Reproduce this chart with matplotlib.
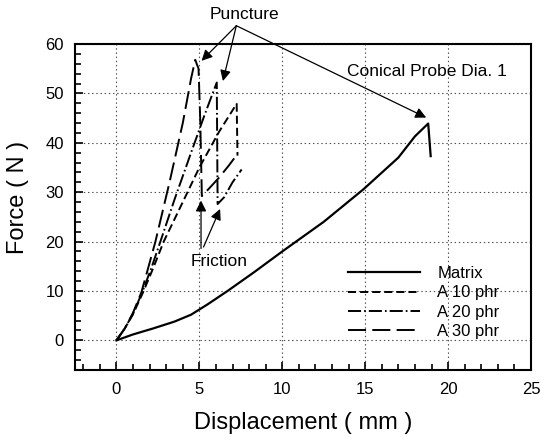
import matplotlib
matplotlib.use("Agg")
import matplotlib.pyplot as plt
from matplotlib.ticker import MultipleLocator

plt.rcParams["font.family"] = ["Liberation Sans", "DejaVu Sans"]
plt.rcParams["lines.scale_dashes"] = False

# ---------------------------------------------------------------------------
# Data: force vs displacement, conical probe puncture test
# ---------------------------------------------------------------------------
matrix_x = [0, 1.0, 2.2, 3.5, 4.5, 5.5, 6.7, 8.3, 10.0, 12.5, 14.9, 17.0, 18.0, 18.8, 18.95]
matrix_y = [0, 1.2, 2.4, 3.8, 5.2, 7.3, 10.0, 13.8, 18.0, 24.0, 30.6, 37.0, 41.3, 43.9, 37.3]

a10_x = [0, 0.5, 1.0, 1.6, 2.2, 2.85, 4.0, 5.0, 6.2, 7.25, 7.3]
a10_y = [0, 2.4, 5.3, 9.7, 14.5, 20.0, 28.0, 35.0, 42.3, 47.9, 37.4]

a20_x = [0, 0.5, 1.0, 1.55, 2.1, 2.65, 3.5, 4.5, 5.3, 5.8, 6.05, 6.1, 6.5, 7.0, 7.55]
a20_y = [0, 2.4, 5.4, 9.7, 14.6, 20.0, 28.5, 38.0, 45.5, 50.0, 52.2, 27.6, 29.0, 32.0, 34.6]

a30_x = [0, 0.5, 1.0, 1.5, 1.9, 2.35, 3.2, 4.0, 4.5, 4.75, 4.95, 5.05, 5.15, 5.6, 6.2, 6.8, 7.2]
a30_y = [0, 2.4, 5.6, 9.7, 14.5, 20.0, 32.0, 44.0, 53.0, 56.8, 55.0, 45.0, 29.2, 30.8, 33.0, 35.5, 37.3]

labels = ["Matrix", "A 10 phr", "A 20 phr", "A 30 phr"]

# annotation anchor points (data units)
puncture_src = (7.23, 63.7)
puncture_tips = [(5.13, 56.6), (6.42, 52.5), (18.68, 45.1)]
friction_srcs = [(5.1, 18.6), (5.25, 18.9)]
friction_tips = [(5.1, 28.3), (6.25, 26.6)]

# ---------------------------------------------------------------------------
fig = plt.figure(figsize=(5.52, 4.38), dpi=100)
ax = fig.add_axes([75 / 552, 1 - 370 / 438, 456 / 552, 326 / 438])

ax.plot(matrix_x, matrix_y, color="black", lw=1.6, ls="-", label=labels[0])
ax.plot(a10_x, a10_y, color="black", lw=1.4, ls=(0, (5.8, 2.9)), label=labels[1])
ax.plot(a20_x, a20_y, color="black", lw=1.4, ls=(0, (9.4, 2.2, 1.2, 2.2)), label=labels[2])
ax.plot(a30_x, a30_y, color="black", lw=1.4, ls=(0, (13, 4.5)), label=labels[3])

# ── annotations ──
arrow = dict(arrowstyle="-|>", color="black", lw=0.9, mutation_scale=16,
             shrinkA=0, shrinkB=0)
ax.text(7.73, 66.0, "Puncture", fontsize=12.5, ha="center", va="center",
        clip_on=False)
for tip in puncture_tips:
    ax.annotate("", xy=tip, xytext=puncture_src, arrowprops=arrow,
                annotation_clip=False, zorder=4)

ax.text(18.7, 54.5, "Conical Probe Dia. 1", fontsize=12.5, ha="center", va="center")

ax.text(6.17, 15.9, "Friction", fontsize=12.5, ha="center", va="center")
for src, tip in zip(friction_srcs, friction_tips):
    ax.annotate("", xy=tip, xytext=src, arrowprops=arrow, zorder=4)

# ── legend ──
ax.legend(loc="center left", bbox_to_anchor=(0.599, 0.207), frameon=False,
          fontsize=12, handlelength=4.3, handletextpad=1.05,
          labelspacing=0.25, borderpad=0, borderaxespad=0)

# ── axes cosmetics ──
ax.set_xlim(-2.5, 25)
ax.set_ylim(-6, 60)
ax.xaxis.set_major_locator(MultipleLocator(5))
ax.xaxis.set_minor_locator(MultipleLocator(1))
ax.yaxis.set_major_locator(MultipleLocator(10))
ax.yaxis.set_minor_locator(MultipleLocator(2))
ax.tick_params(which="both", direction="in", top=False, right=False,
               labelsize=12, width=1.2)
ax.tick_params(which="major", length=6)
ax.tick_params(which="minor", length=4)
ax.tick_params(axis="y", pad=8)
ax.tick_params(axis="x", pad=9)
for sp in ax.spines.values():
    sp.set_linewidth(1.5)

ax.grid(True, which="major", linestyle=(0, (1, 2)), color="0.3", lw=0.8)
ax.set_axisbelow(True)

ax.set_xlabel("Displacement ( mm )", fontsize=17)
ax.set_ylabel("Force ( N )", fontsize=17)
ax.xaxis.set_label_coords(0.5, -0.13)
ax.yaxis.set_label_coords(-0.10, 0.53)

fig.savefig("out.png", dpi=100)
